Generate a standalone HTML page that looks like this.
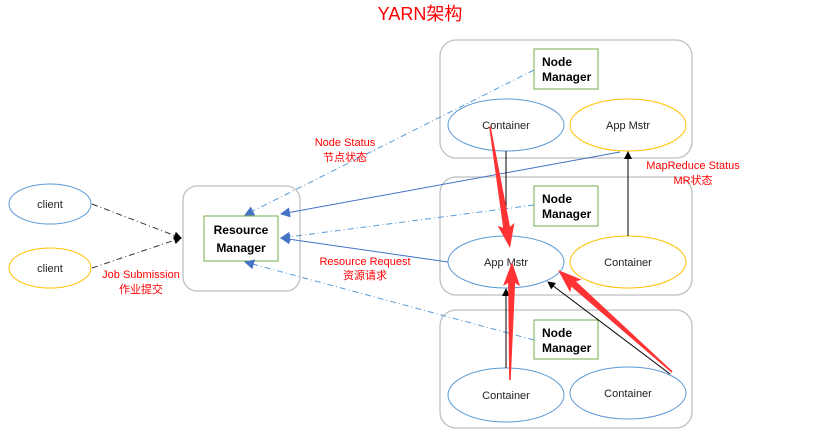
<!DOCTYPE html>
<html><head><meta charset="utf-8"><style>
body{margin:0;background:#fff;}
svg{display:block;font-family:"Liberation Sans","Noto Sans CJK SC",sans-serif;}
</style></head><body>
<svg width="821" height="447" viewBox="0 0 821 447" xmlns="http://www.w3.org/2000/svg">
<defs>
<marker id="ab" markerWidth="8" markerHeight="8" refX="7" refY="4" orient="auto" markerUnits="userSpaceOnUse"><path d="M0,0 L8,4 L0,8 z" fill="#000"/></marker>
<marker id="abl" markerWidth="10" markerHeight="10" refX="9" refY="5" orient="auto" markerUnits="userSpaceOnUse"><path d="M0,0 L10,5 L0,10 z" fill="#4472c4"/></marker>
</defs>
<text x="420" y="20" font-size="18" fill="#f00" text-anchor="middle">YARN架构</text>

<rect x="440" y="40" width="252" height="118" rx="16" fill="none" stroke="#bfbfbf" stroke-width="1.3"/>
<rect x="440" y="177" width="252" height="118" rx="16" fill="none" stroke="#bfbfbf" stroke-width="1.3"/>
<rect x="440" y="310" width="252" height="118" rx="16" fill="none" stroke="#bfbfbf" stroke-width="1.3"/>

<g font-size="12" font-weight="bold" fill="#000">
<rect x="534" y="49" width="64" height="40" fill="#fff" stroke="#70ad47"/>
<text x="542" y="66">Node</text><text x="542" y="81">Manager</text>
<rect x="534" y="186" width="64" height="40" fill="#fff" stroke="#70ad47"/>
<text x="542" y="203">Node</text><text x="542" y="218">Manager</text>
<rect x="534" y="320" width="64" height="39" fill="#fff" stroke="#70ad47"/>
<text x="542" y="337">Node</text><text x="542" y="352">Manager</text>
</g>

<g font-size="11" text-anchor="middle" fill="#222">
<ellipse cx="506" cy="125" rx="58" ry="26" fill="none" stroke="#5b9bd5"/>
<text x="506" y="129">Container</text>
<ellipse cx="628" cy="125" rx="58" ry="26" fill="none" stroke="#ffc000"/>
<text x="628" y="129">App Mstr</text>
<ellipse cx="506" cy="262" rx="58" ry="26" fill="none" stroke="#5b9bd5"/>
<text x="506" y="266">App Mstr</text>
<ellipse cx="628" cy="262" rx="58" ry="26" fill="none" stroke="#ffc000"/>
<text x="628" y="266">Container</text>
<ellipse cx="506" cy="395" rx="58" ry="27" fill="none" stroke="#5b9bd5"/>
<text x="506" y="399">Container</text>
<ellipse cx="628" cy="393" rx="58" ry="26" fill="none" stroke="#5b9bd5"/>
<text x="628" y="397">Container</text>
<ellipse cx="50" cy="204" rx="41" ry="20" fill="none" stroke="#5b9bd5"/>
<text x="50" y="208">client</text>
<ellipse cx="50" cy="268" rx="41" ry="20" fill="none" stroke="#ffc000"/>
<text x="50" y="272">client</text>
</g>

<rect x="183" y="186" width="117" height="105" rx="14" fill="none" stroke="#bfbfbf" stroke-width="1.3"/>
<rect x="204" y="216" width="74" height="45" fill="#fff" stroke="#70ad47"/>
<g font-size="12" font-weight="bold" text-anchor="middle"><text x="241" y="234">Resource</text><text x="241" y="252">Manager</text></g>

<line x1="92" y1="204" x2="181" y2="238" stroke="#333" stroke-dasharray="6,3,1,3" marker-end="url(#ab)"/>
<line x1="92" y1="268" x2="181" y2="238" stroke="#333" stroke-dasharray="6,3,1,3" marker-end="url(#ab)"/>

<line x1="534" y1="70" x2="245" y2="215" stroke="#5b9bd5" stroke-dasharray="6,3,1,3" marker-end="url(#abl)"/>
<line x1="620" y1="152" x2="281" y2="214" stroke="#4472c4" marker-end="url(#abl)"/>
<line x1="534" y1="205" x2="281" y2="238" stroke="#5b9bd5" stroke-dasharray="6,3,1,3" marker-end="url(#abl)"/>
<line x1="448" y1="262" x2="281" y2="238" stroke="#4472c4" marker-end="url(#abl)"/>
<line x1="534" y1="340" x2="245" y2="262" stroke="#5b9bd5" stroke-dasharray="6,3,1,3" marker-end="url(#abl)"/>

<line x1="506" y1="151" x2="506" y2="236" stroke="#000"/>
<line x1="628" y1="236" x2="628" y2="152" stroke="#000" marker-end="url(#ab)"/>
<line x1="506" y1="368" x2="506" y2="289" stroke="#000" marker-end="url(#ab)"/>
<line x1="670" y1="374" x2="548" y2="282" stroke="#000" marker-end="url(#ab)"/>

<g fill="#ff3333">
<g transform="translate(510,248) rotate(80.6)"><polygon points="0,0 -24,-8.5 -21,-3.5 -123,-0.8 -123,0.8 -21,3.5 -24,8.5"/></g>
<g transform="translate(512,262) rotate(-89)"><polygon points="0,0 -24,-8.5 -21,-3.5 -118,-0.8 -118,0.8 -21,3.5 -24,8.5"/></g>
<g transform="translate(558,270) rotate(-138.2)"><polygon points="0,0 -24,-8.5 -21,-3.5 -153,-0.8 -153,0.8 -21,3.5 -24,8.5"/></g>
</g>

<g font-size="11" fill="#f00" text-anchor="middle">
<text x="345" y="146">Node Status</text><text x="345" y="161">节点状态</text>
<text x="693" y="169">MapReduce Status</text><text x="693" y="184">MR状态</text>
<text x="365" y="265">Resource Request</text><text x="365" y="279">资源请求</text>
<text x="141" y="278">Job Submission</text><text x="141" y="293">作业提交</text>
</g>
</svg>
</body></html>
